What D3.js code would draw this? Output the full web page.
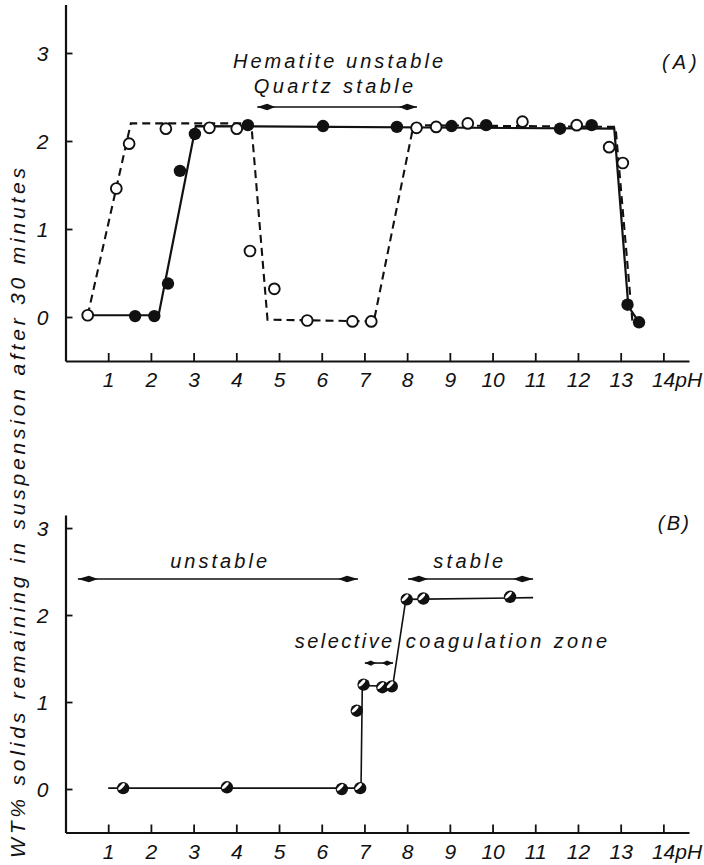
<!DOCTYPE html>
<html><head><meta charset="utf-8">
<script src="https://cdn.jsdelivr.net/npm/d3@7"></script>
<style>
body{margin:0;background:#fff}
svg{display:block}
text{font-family:"Liberation Sans",Arial,sans-serif;font-style:italic;fill:#111}
</style>
</head><body>
<svg id="c" width="704" height="865"></svg>
<script>
// ---- data ----
const pHTicks = [1,2,3,4,5,6,7,8,9,10,11,12,13,14];
const valueTicks = [0,1,2,3];
const yTitle = "WT% solids remaining in suspension after 30 minutes";

// Panel A: open circles (dashed curve), filled circles (solid curve): [pH, wt%]
const openA = [[0.52,0.02],[1.19,1.46],[1.49,1.97],[2.35,2.14],[3.37,2.15],[4.01,2.14],[4.32,0.75],[4.89,0.32],[5.66,-0.04],[6.72,-0.05],[7.16,-0.05],[8.22,2.15],[8.68,2.16],[9.42,2.2],[10.7,2.22],[11.97,2.18],[12.73,1.93],[13.05,1.75]];
const filledA = [[1.63,0.01],[2.08,0.01],[2.40,0.38],[2.68,1.66],[3.03,2.08],[4.27,2.18],[6.03,2.17],[7.76,2.16],[9.04,2.17],[9.85,2.18],[11.58,2.14],[12.32,2.18],[13.16,0.14],[13.43,-0.06]];
const dashedA = [[0.52,0.02],[1.53,2.2],[4.35,2.2],[4.73,-0.03],[7.22,-0.05],[8.15,2.18],[12.88,2.16],[13.28,-0.08]];
const solidA = [[0.6,0.02],[2.18,0.02],[3.05,2.17],[12.85,2.14],[13.18,0.12],[13.43,-0.06]];

// Panel B: mixture (half-filled circles)
const pointsB = [[1.35,0.01],[3.78,0.02],[6.47,0.0],[6.9,0.01],[6.82,0.9],[6.98,1.2],[7.42,1.17],[7.64,1.18],[7.99,2.18],[8.38,2.19],[10.41,2.21]];
const lineB = [[1.0,0.01],[6.92,0.01],[6.95,1.19],[7.66,1.18],[7.97,2.18],[10.95,2.2]];

// Annotations (in data units: pH span, value baseline)
const textsA = [
  {t:"Hematite unstable", x0:3.92, x1:8.84, v:2.83},
  {t:"Quartz stable", x0:4.41, x1:8.14, v:2.545},
  {t:"(A)", x0:13.97, x1:14.78, v:2.82}
];
const arrowsA = [{x0:4.49, x1:8.23, v:2.386, head:18}];
const textsB = [
  {t:"unstable", x0:2.45, x1:4.72, v:2.54},
  {t:"stable", x0:8.61, x1:10.25, v:2.54},
  {t:"selective", x0:5.37, x1:7.65, v:1.62},
  {t:"coagulation zone", x0:7.97, x1:12.68, v:1.62},
  {t:"(B)", x0:13.87, x1:14.6, v:2.98}
];
const arrowsB = [
  {x0:0.29, x1:6.85, v:2.414, head:20},
  {x0:8.02, x1:10.95, v:2.414, head:20},
  {x0:7.01, x1:7.67, v:1.448, head:11}
];

// ---- drawing ----
const svg = d3.select("#c");
const x = d3.scaleLinear().domain([0,14.6]).range([65.5,689]);
const yA = d3.scaleLinear().domain([-0.5,3.55]).range([361,4.6]);
const yB = d3.scaleLinear().domain([-0.5,3.15]).range([832.5,515]);

// stretch a text to a given width using letter spacing (last glyph excluded)
function fit(sel, width){
  sel.each(function(){
    const n = this.textContent.length;
    const len = this.getComputedTextLength();
    const ls = Math.max(0,(width - len)/Math.max(1,n-1));
    d3.select(this).style("letter-spacing", ls+"px");
  });
}

function axes(y){
  const g = svg.append("g");
  const gx = g.append("g").attr("transform",`translate(0,${y(-0.5)})`)
    .call(d3.axisBottom(x).tickValues(pHTicks).tickFormat(d3.format("d")).tickSizeInner(-8).tickSizeOuter(0));
  gx.select(".domain").attr("stroke-width",2.2).attr("stroke","#111");
  gx.selectAll(".tick line").attr("stroke-width",1.8).attr("stroke","#111");
  gx.selectAll(".tick text").attr("dy",null).attr("y",26)
    .style("font-size","21px").attr("fill","#111");
  gx.selectAll(".tick").filter(d=>d===14).select("text")
    .text("14pH").attr("text-anchor","start").attr("x",-12);
  const gy = g.append("g").attr("transform",`translate(${x(0)},0)`)
    .call(d3.axisLeft(y).tickValues(valueTicks).tickFormat(d3.format("d")).tickSizeInner(-7).tickSizeOuter(0));
  gy.select(".domain").attr("stroke-width",2.2).attr("stroke","#111");
  gy.selectAll(".tick line").attr("stroke-width",1.8).attr("stroke","#111");
  gy.selectAll(".tick text").attr("x",-17).attr("dy","0.36em")
    .style("font-size","21px").attr("fill","#111");
}
axes(yA);
axes(yB);

// y title
const title = svg.append("text")
  .attr("transform",`translate(25,511) rotate(-90)`)
  .attr("text-anchor","middle")
  .style("font-size","21px")
  .text(yTitle);
fit(title, 690);

const line = y => d3.line().x(d=>x(d[0])).y(d=>y(d[1]));

// Panel A curves
svg.append("path").datum(dashedA).attr("d",line(yA)).attr("fill","none")
  .attr("stroke","#111").attr("stroke-width",2.1).attr("stroke-dasharray","8,5");
svg.append("path").datum(solidA).attr("d",line(yA)).attr("fill","none")
  .attr("stroke","#111").attr("stroke-width",2.2);
svg.append("g").selectAll("circle").data(filledA).join("circle")
  .attr("cx",d=>x(d[0])).attr("cy",d=>yA(d[1])).attr("r",6.2).attr("fill","#111");
svg.append("g").selectAll("circle").data(openA).join("circle")
  .attr("cx",d=>x(d[0])).attr("cy",d=>yA(d[1])).attr("r",5.4)
  .attr("fill","#fff").attr("stroke","#111").attr("stroke-width",1.9);

// Panel B curve and markers
svg.append("path").datum(lineB).attr("d",line(yB)).attr("fill","none")
  .attr("stroke","#111").attr("stroke-width",1.6);
const mk = svg.append("g").selectAll("g").data(pointsB).join("g")
  .attr("transform",d=>`translate(${x(d[0])},${yB(d[1])})`);
mk.append("circle").attr("r",6.2).attr("fill","#111");
mk.append("ellipse").attr("cx",-1.6).attr("cy",-1.6).attr("rx",4.4).attr("ry",1.6)
  .attr("transform","rotate(-45 -1.6 -1.6)").attr("fill","#fff");

// annotations
function texts(arr, y){
  svg.append("g").selectAll("text").data(arr).join("text")
    .attr("x",d=>x(d.x0)).attr("y",d=>y(d.v))
    .style("font-size","20px").text(d=>d.t)
    .each(function(d){ fit(d3.select(this), x(d.x1)-x(d.x0)); });
}
function arrows(arr, y){
  const g = svg.append("g");
  arr.forEach(a=>{
    const x0=x(a.x0), x1=x(a.x1), yy=y(a.v), h=a.head, w=h>15?3.2:2.6;
    g.append("line").attr("x1",x0).attr("x2",x1).attr("y1",yy).attr("y2",yy)
      .attr("stroke","#111").attr("stroke-width",1.6);
    g.append("path").attr("fill","#111")
      .attr("d",`M${x0},${yy}L${x0+h*0.55},${yy-w}L${x0+h},${yy}L${x0+h*0.55},${yy+w}Z`);
    g.append("path").attr("fill","#111")
      .attr("d",`M${x1},${yy}L${x1-h*0.55},${yy-w}L${x1-h},${yy}L${x1-h*0.55},${yy+w}Z`);
  });
}
texts(textsA, yA); arrows(arrowsA, yA);
texts(textsB, yB); arrows(arrowsB, yB);
</script>
</body></html>
